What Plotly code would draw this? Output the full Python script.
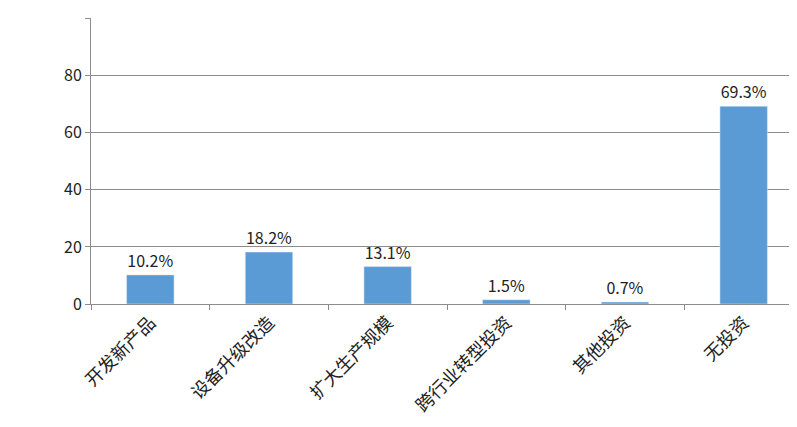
import plotly.graph_objects as go

categories = ["开发新产品", "设备升级改造", "扩大生产规模", "跨行业转型投资", "其他投资", "无投资"]
values = [10.2, 18.2, 13.1, 1.5, 0.7, 69.3]

fig = go.Figure(go.Bar(
    x=categories,
    y=values,
    marker_color="#5B9BD5",
    width=0.4,
    text=[f"{v:.1f}%" for v in values],
    textposition="outside",
    textfont=dict(size=16, color="#222"),
    cliponaxis=False,
))

fig.update_layout(
    width=797, height=427,
    margin=dict(l=83, r=2, t=10, b=131),
    plot_bgcolor="white", paper_bgcolor="white",
    font=dict(family="Noto Sans CJK SC, Liberation Sans, sans-serif", size=16, color="#222"),
    showlegend=False,
    uniformtext=dict(minsize=16),
)
fig.update_yaxes(
    range=[0, 100.2], tickvals=[0, 20, 40, 60, 80, 100], ticksuffix=".0%",
    showgrid=True, gridcolor="#8c8c8c", gridwidth=1,
    showline=True, linecolor="#8c8c8c", zeroline=False,
    ticks="outside", ticklen=5, tickcolor="#8c8c8c", automargin=False,
)
fig.update_xaxes(
    tickangle=-45, showline=True, linecolor="#8c8c8c", tickfont=dict(size=18),
    ticks="outside", tickson="boundaries", ticklen=5, tickcolor="#8c8c8c",
    automargin=False,
)

fig.write_html("out.html")
